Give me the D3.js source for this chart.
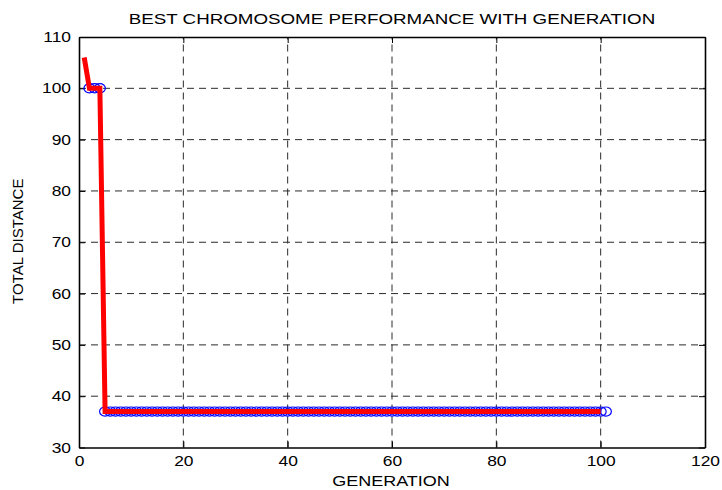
<!DOCTYPE html>
<html>
<head>
<meta charset="utf-8">
<script src="https://cdn.jsdelivr.net/npm/d3@7"></script>
<style>
  html, body { margin: 0; padding: 0; background: #ffffff; }
  svg { display: block; font-family: "Liberation Sans", Arial, sans-serif; }
</style>
</head>
<body>
<svg id="chart" width="722" height="490"></svg>
<script>
// ---- data ----
const titleText = "BEST CHROMOSOME PERFORMANCE WITH GENERATION";
const xLabelText = "GENERATION";
const yLabelText = "TOTAL DISTANCE";
const xTicks = [0, 20, 40, 60, 80, 100, 120];
const yTicks = [30, 40, 50, 60, 70, 80, 90, 100, 110];
// best distance per generation (generation 1 .. 101)
const bestDistance = [
  106, 100, 100, 100,
  37, 37, 37, 37, 37, 37, 37, 37, 37, 37,
  37, 37, 37, 37, 37, 37, 37, 37, 37, 37,
  37, 37, 37, 37, 37, 37, 37, 37, 37, 37,
  37, 37, 37, 37, 37, 37, 37, 37, 37, 37,
  37, 37, 37, 37, 37, 37, 37, 37, 37, 37,
  37, 37, 37, 37, 37, 37, 37, 37, 37, 37,
  37, 37, 37, 37, 37, 37, 37, 37, 37, 37,
  37, 37, 37, 37, 37, 37, 37, 37, 37, 37,
  37, 37, 37, 37, 37, 37, 37, 37, 37, 37,
  37, 37, 37, 37, 37, 37, 37
];
const generations = bestDistance.map((d, i) => i + 1);
// red line: generations 1..100 ; blue circles: generations 2..101
const linePoints = generations.slice(0, 100).map((g, i) => ({ g, v: bestDistance[i] }));
const markerPoints = generations.slice(1).map((g, i) => ({ g, v: bestDistance[i + 1] }));

// ---- layout ----
const svg = d3.select("#chart");
const L = 79, R = 705, T = 37, B = 447.5;
const x = d3.scaleLinear().domain([0, 120]).range([L, R]);
const y = d3.scaleLinear().domain([30, 110]).range([B, T]);
const STRETCH = 1.2;

function stretch(sel, k) {
  sel.each(function () {
    const w = this.getComputedTextLength();
    d3.select(this).attr("textLength", w * k).attr("lengthAdjust", "spacingAndGlyphs");
  });
}

// grid
const grid = svg.append("g").attr("stroke", "#2a2a2a").attr("stroke-width", 1)
  .attr("stroke-dasharray", "7,5").attr("fill", "none");
grid.selectAll("line.vx").data(xTicks.slice(1, -1)).join("line")
  .attr("x1", d => x(d)).attr("x2", d => x(d)).attr("y1", B).attr("y2", T);
grid.selectAll("line.hy").data(yTicks.slice(1, -1)).join("line")
  .attr("x1", L).attr("x2", R).attr("y1", d => y(d)).attr("y2", d => y(d));

// axes (inner ticks)
const tk = 6;
const xAxisB = svg.append("g").attr("transform", `translate(0,${B})`)
  .call(d3.axisBottom(x).tickValues(xTicks).tickSizeInner(-tk).tickSizeOuter(0).tickPadding(8));
const xAxisT = svg.append("g").attr("transform", `translate(0,${T})`)
  .call(d3.axisTop(x).tickValues(xTicks).tickSizeInner(-tk).tickSizeOuter(0).tickFormat(""));
const yAxisL = svg.append("g").attr("transform", `translate(${L},0)`)
  .call(d3.axisLeft(y).tickValues(yTicks).tickSizeInner(-tk).tickSizeOuter(0).tickPadding(8));
const yAxisR = svg.append("g").attr("transform", `translate(${R},0)`)
  .call(d3.axisRight(y).tickValues(yTicks).tickSizeInner(-tk).tickSizeOuter(0).tickFormat(""));
[xAxisB, xAxisT, yAxisL, yAxisR].forEach(a => {
  a.select(".domain").attr("stroke", "#000").attr("stroke-width", 1.6);
  a.selectAll(".tick line").attr("stroke", "#000").attr("stroke-width", 1);
  a.selectAll("text").attr("font-size", 14.5).attr("fill", "#000")
    .attr("font-family", "'Liberation Sans', Arial, sans-serif");
});
stretch(xAxisB.selectAll("text"), STRETCH);
stretch(yAxisL.selectAll("text"), STRETCH);

// markers (blue circles)
svg.append("g").selectAll("ellipse").data(markerPoints).join("ellipse")
  .attr("cx", d => x(d.g)).attr("cy", d => y(d.v))
  .attr("rx", 5.5).attr("ry", 4.6)
  .attr("fill", "none").attr("stroke", "#0000ff").attr("stroke-width", 1.2);

// red line
svg.append("path").datum(linePoints)
  .attr("d", d3.line().x(d => x(d.g)).y(d => y(d.v)))
  .attr("fill", "none").attr("stroke", "#ff0000").attr("stroke-width", 5)
  .attr("stroke-linejoin", "miter");

// labels
const title = svg.append("text").attr("x", (L + R) / 2).attr("y", 24)
  .attr("text-anchor", "middle").attr("font-size", 15).attr("fill", "#000").text(titleText);
stretch(title, 1.25);
const xl = svg.append("text").attr("x", (L + R) / 2 - 1).attr("y", 486)
  .attr("text-anchor", "middle").attr("font-size", 15).attr("fill", "#000").text(xLabelText);
stretch(xl, STRETCH);
svg.append("text").attr("transform", `translate(23,${(T + B) / 2 - 1}) rotate(-90)`)
  .attr("text-anchor", "middle").attr("font-size", 15).attr("fill", "#000").text(yLabelText);
</script>
</body>
</html>
